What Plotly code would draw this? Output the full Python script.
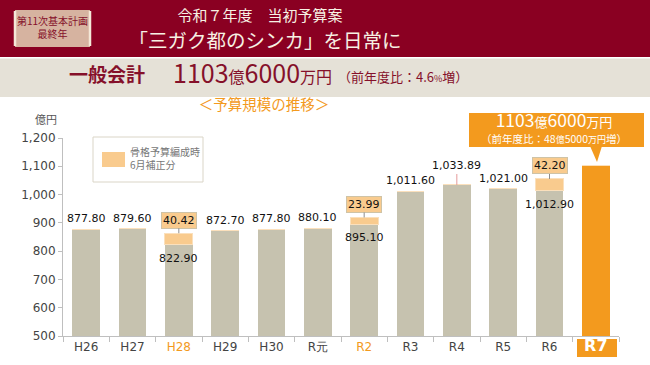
import plotly.graph_objects as go

# ---------------- data ----------------
categories = ["H26", "H27", "H28", "H29", "H30", "R元", "R2", "R3", "R4", "R5", "R6", "R7"]
base_values = [877.80, 879.60, 822.90, 872.70, 877.80, 880.10, 895.10, 1011.60, 1033.89, 1021.00, 1012.90, 1103.60]
june_supplement = [0, 0, 40.42, 0, 0, 0, 23.99, 0, 0, 0, 42.20, 0]
skeleton_years = ["H28", "R2"]          # 骨格予算編成年（orange tick labels）
current_year = "R7"
y_ticks = [500, 600, 700, 800, 900, 1000, 1100, 1200]

# ---------------- styles ----------------
W, H = 650, 365
PL, PR, PT, PB = 63, 619, 138, 336      # plot area in pixels
GRAY_BAR = "#C6C2AF"
LIGHT_OR = "#F9CB8E"
ORANGE = "#F39A1E"
DARK_RED = "#8A0022"
BAND = "#E5E1D7"
TXT_RED = "#85102A"
CREAM = "#F7F1E3"
JP = "Noto Sans CJK JP"
NUM = "DejaVu Sans"


def px(x):
    return x / W


def py(y):
    return 1 - y / H


def fmt(v):
    return f"{v:,.2f}"


fig = go.Figure()
bar_colors = [ORANGE if c == current_year else GRAY_BAR for c in categories]
fig.add_trace(go.Bar(x=categories, y=base_values, marker=dict(color=bar_colors, line=dict(width=0)),
                     hoverinfo="skip", showlegend=False))
fig.add_trace(go.Bar(x=categories, y=june_supplement,
                     marker=dict(color=LIGHT_OR, line=dict(color="#FBE0BC", width=1)),
                     hoverinfo="skip", showlegend=False))

annotations = []
shapes = []

# value labels
top_regular = max(v for v, cc in zip(base_values, categories) if cc != current_year)
for c, b, s in zip(categories, base_values, june_supplement):
    if c == current_year:
        continue
    if s > 0:
        annotations.append(dict(x=c, y=b + s, xref="x", yref="y", text=f"{s:.2f}",
                                showarrow=True, ax=0, ay=-13, arrowhead=0, arrowwidth=1,
                                arrowcolor="#8C8C8C", standoff=0,
                                bgcolor=LIGHT_OR, bordercolor="#CFC3A6", borderwidth=1, borderpad=1,
                                font=dict(family=NUM, size=11, color="#111")))
        annotations.append(dict(x=c, y=b, xref="x", yref="y", text=fmt(b), showarrow=False,
                                yanchor="top", yshift=-5, font=dict(family=NUM, size=11, color="#111")))
    elif b == top_regular:
        annotations.append(dict(x=c, y=b, xref="x", yref="y", text=fmt(b),
                                showarrow=True, ax=0, ay=-19, arrowhead=0, arrowwidth=1,
                                arrowcolor="#E59A9A", standoff=0,
                                font=dict(family=NUM, size=11, color="#111")))
    else:
        annotations.append(dict(x=c, y=b, xref="x", yref="y", text=fmt(b), showarrow=False,
                                yanchor="bottom", yshift=2, font=dict(family=NUM, size=11, color="#111")))

# tick labels
ticktext = []
for c in categories:
    if c == current_year:
        ticktext.append(f"<b><span style='color:white;font-size:16px'>{c}</span></b>")
    elif c in skeleton_years:
        ticktext.append(f"<span style='color:{ORANGE}'>{c}</span>")
    else:
        ticktext.append(c)


def rect(x0, x1, y0, y1, color, line=None):
    shapes.append(dict(type="rect", xref="paper", yref="paper", x0=px(x0), x1=px(x1), y0=py(y1), y1=py(y0),
                       fillcolor=color, line=line or dict(width=0), layer="below"))


# ---------- header / decorations ----------
rect(0, W, 0, 57, DARK_RED)
rect(0, W, 58.5, 97, BAND)
rect(15, 90, 10, 47, "#D6B3A0")
for xx in (15, 90):
    shapes.append(dict(type="line", xref="paper", yref="paper", x0=px(xx), x1=px(xx), y0=py(46), y1=py(11),
                       line=dict(color="#F4E8D8", width=2.5), layer="below"))
rect(93, 203, 137, 182, "white", dict(color="#DAD5C7", width=1))
rect(102, 125, 152, 167, LIGHT_OR)
rect(469, 644, 113, 147, ORANGE)
shapes.append(dict(type="path", xref="paper", yref="paper",
                   path=f"M {px(590)},{py(146)} L {px(602)},{py(146)} L {px(597)},{py(162)} Z",
                   fillcolor=ORANGE, line=dict(width=0), layer="below"))
rect(577, 617, 339, 357, ORANGE)


# text placed on an invisible full-figure pixel overlay axis
def label(x, y, text, size, color, pos="middle center"):
    fig.add_trace(go.Scatter(x=[x], y=[y], mode="text", text=[text], textposition=pos,
                             textfont=dict(family=JP, size=size, color=color),
                             xaxis="x2", yaxis="y2", hoverinfo="skip", showlegend=False, cliponaxis=False))


label(52.5, 29, "第11次基本計画<br>最終年", 10, TXT_RED)
label(260, 17, "令和７年度　当初予算案", 15, CREAM)
label(265, 43, "「三ガク都のシンカ」を日常に", 19.5, CREAM)
label(69, 77, "<b>一般会計</b>", 19, TXT_RED, "middle right")
label(173, 77, "1103<span style='font-size:16px'>億</span>6000<span style='font-size:16px'>万円</span>",
      25, TXT_RED, "middle right")
label(338, 79, "（前年度比：4.6<span style='font-size:9px'>%</span>増）", 13, TXT_RED, "middle right")
label(264, 106, "＜予算規模の推移＞", 14.5, ORANGE)
label(46, 121, "億円", 11, "#555")
label(130, 160, "骨格予算編成時<br>6月補正分", 10, "#777", "middle right")
label(554, 123, "1103<span style='font-size:13px'>億</span>6000<span style='font-size:13px'>万円</span>",
      17.5, "white")
label(554, 140, "（前年度比：48<span style='font-size:9px'>億</span>5000<span style='font-size:9px'>万円</span>増）",
      10.5, "white")

fig.update_layout(
    width=W, height=H, barmode="stack", bargap=0.4,
    margin=dict(l=0, r=0, t=0, b=0),
    paper_bgcolor="white", plot_bgcolor="rgba(0,0,0,0)",
    shapes=shapes, annotations=annotations, showlegend=False,
    xaxis=dict(domain=[px(PL), px(PR)], type="category", tickmode="array", tickvals=categories,
               ticktext=ticktext, showline=True, linecolor="#BFBFBF", linewidth=1,
               ticks="outside", tickson="boundaries", ticklen=5, tickcolor="#BFBFBF",
               tickfont=dict(family=NUM, size=12, color="#444"), automargin=False, fixedrange=True),
    yaxis=dict(domain=[py(PB), py(PT)], range=[500, 1200], tickvals=y_ticks, tickformat=",",
               showline=True, linecolor="#BFBFBF", linewidth=1, showgrid=False, zeroline=False,
               ticks="outside", ticklen=4, tickcolor="#BFBFBF",
               tickfont=dict(family=NUM, size=12, color="#444"), automargin=False, fixedrange=True),
    xaxis2=dict(domain=[0, 1], range=[0, W], visible=False, anchor="y2", fixedrange=True),
    yaxis2=dict(domain=[0, 1], range=[H, 0], visible=False, anchor="x2", fixedrange=True),
)

fig.write_html("out.html", config={"displayModeBar": False},
               post_script="document.body.style.margin='0';document.body.style.overflow='hidden';")
